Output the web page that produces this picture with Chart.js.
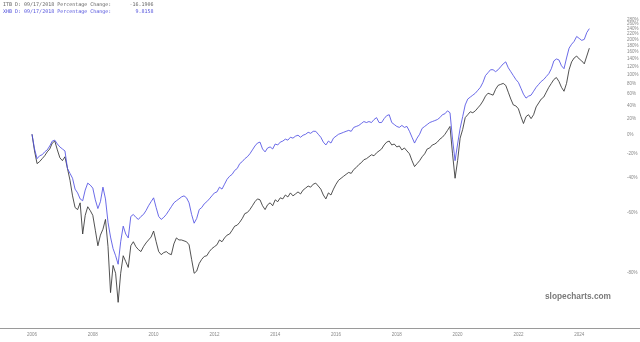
<!DOCTYPE html>
<html>
<head>
<meta charset="utf-8">
<script src="https://cdn.jsdelivr.net/npm/chart.js@4.4.1/dist/chart.umd.min.js"></script>
<style>
  html, body { margin: 0; padding: 0; background: #fff; }
  #wrap { position: relative; width: 640px; height: 342px; }
  #chart { position: absolute; left: 0; top: 0; }
  .hdr { position: absolute; left: 3px; font-family: "DejaVu Sans Mono", monospace; font-size: 5px; line-height: 6px; white-space: pre; }
  #wm { position: absolute; left: 545px; top: 291px; font: bold 8.3px "Liberation Sans", Arial, sans-serif; color: #7a7a7a; }
</style>
</head>
<body>
<div id="wrap">
  <canvas id="chart" width="640" height="342"></canvas>
  <div class="hdr" style="top:1px;color:#666">ITB D: 09/17/2018 Percentage Change:      -16.1906</div>
  <div class="hdr" style="top:8px;color:#5555dd">XHB D: 09/17/2018 Percentage Change:        9.8158</div>
  <div id="wm">slopecharts.com</div>
</div>
<script>
// monthly closes, % change since the start (Jan 2006)
const START_YEAR = 2006;
const yearTicks = [2006, 2008, 2010, 2012, 2014, 2016, 2018, 2020, 2022, 2024];
const pctTicks = [-80, -60, -40, -20, 0, 20, 40, 60, 80, 100, 120, 140, 160, 180, 200, 220, 240, 260, 280];

const itbPct = [
  0, -17.6, -28.9, -27.2, -24.7, -22.1, -18.5, -15.7, -9.7, -7.6, -16.6, -23.9,
  -26.4, -23.0, -32.8, -41.4, -51.1, -57.3, -58.3, -54.9, -68.6, -61.0, -56.9, -58.8,
  -61.0, -67.2, -72.6, -69.0, -66.8, -62.8, -72.9, -84.1, -78.2, -80.1, -85.8, -80.1,
  -75.6, -77.2, -78.7, -72.6, -71.3, -72.9, -73.8, -74.4, -72.9, -71.7, -70.7, -69.7,
  -67.5, -71.3, -74.4, -75.3, -74.7, -74.4, -75.0, -75.3, -72.0, -70.0, -70.7, -70.7,
  -71.0, -71.3, -72.3, -76.6, -80.1, -79.6, -77.7, -76.6, -75.8, -75.6, -74.4, -73.5,
  -72.9, -72.3, -70.7, -71.3, -70.0, -69.0, -68.6, -67.2, -65.6, -65.2, -64.0, -62.4,
  -60.2, -59.7, -58.3, -56.4, -54.3, -52.8, -53.3, -56.4, -58.3, -55.9, -54.9, -56.4,
  -53.3, -54.3, -52.2, -52.8, -50.6, -51.7, -49.4, -51.1, -50.0, -48.8, -50.0, -47.7,
  -46.5, -45.2, -45.9, -44.0, -43.3, -45.2, -47.1, -50.6, -52.8, -49.4, -50.6, -47.1,
  -44.0, -41.4, -40.0, -38.6, -37.2, -35.8, -36.5, -33.6, -32.0, -29.7, -28.1, -25.6,
  -24.7, -23.0, -21.2, -22.1, -19.4, -17.6, -15.7, -11.7, -8.7, -7.6, -11.7, -10.7,
  -13.7, -12.7, -16.6, -14.7, -17.6, -20.3, -26.4, -31.3, -28.9, -26.4, -23.0, -20.3,
  -15.7, -14.7, -11.7, -10.7, -8.7, -5.5, -3.4, 0, 4.6, 9.5, -20.3, -40.0,
  -26.4, -4.4, 5.8, 21.3, 25.5, 29.9, 28.4, 31.3, 35.9, 40.6, 47.1, 55.7,
  61.1, 59.3, 57.5, 68.6, 76.5, 78.5, 80.5, 76.5, 63.0, 50.5, 40.6, 39.0,
  34.4, 22.7, 13.3, 22.7, 25.5, 19.9, 25.5, 37.4, 43.8, 50.5, 54.0, 63.0,
  72.5, 80.5, 88.9, 93.3, 84.7, 72.5, 64.8, 80.5, 111.6, 131.8, 142.5, 148.1,
  139.8, 134.4, 126.6, 148.1, 171.7
];

const xhbPct = [
  0, -15.7, -24.7, -22.1, -21.2, -18.5, -16.6, -12.7, -7.6, -6.6, -10.7, -13.7,
  -15.7, -17.6, -32.8, -36.5, -40.0, -47.1, -49.4, -52.8, -53.8, -47.7, -43.3, -44.6,
  -46.5, -53.3, -57.8, -54.3, -45.9, -52.8, -64.0, -69.7, -73.5, -75.6, -77.9, -71.3,
  -65.6, -68.6, -70.0, -61.5, -60.6, -61.9, -62.8, -61.5, -60.6, -58.8, -56.4, -54.3,
  -52.2, -57.3, -61.5, -62.8, -61.9, -60.6, -58.8, -56.9, -54.9, -53.8, -52.8, -51.7,
  -51.1, -52.2, -54.9, -60.6, -64.4, -62.4, -58.3, -57.3, -55.4, -54.3, -52.8, -51.1,
  -49.4, -48.8, -45.9, -47.1, -44.0, -40.7, -38.6, -37.2, -34.3, -32.8, -28.9, -27.2,
  -24.7, -23.0, -20.3, -16.6, -12.7, -9.7, -8.7, -15.7, -18.5, -14.7, -13.7, -15.7,
  -10.7, -11.7, -8.7, -7.6, -5.5, -6.6, -3.4, -4.4, -2.2, -1.1, -3.4, -1.1,
  0, 2.3, 1.1, 3.5, 3.5, 0, -3.4, -8.7, -11.7, -7.6, -9.7, -4.4,
  -2.2, 0, 1.1, 2.3, 3.5, 4.6, 3.5, 8.3, 9.5, 10.8, 13.3, 15.9,
  14.6, 15.9, 14.6, 18.6, 21.3, 14.6, 14.6, 19.9, 24.1, 25.5, 14.6, 12.0,
  9.5, 8.3, 10.8, 8.3, 9.5, 3.5, -3.4, -9.7, -4.4, 0, 7.1, 9.5,
  12.0, 14.6, 15.9, 17.2, 18.6, 21.3, 25.5, 26.9, 31.3, 28.4, -5.5, -26.4,
  -10.7, 7.1, 22.7, 40.6, 50.5, 54.0, 57.5, 61.1, 66.7, 72.5, 82.6, 97.7,
  104.5, 111.6, 111.6, 106.9, 111.6, 119.0, 126.6, 131.8, 116.5, 106.9, 97.7, 88.9,
  82.6, 70.6, 59.3, 52.2, 55.7, 57.5, 64.8, 72.5, 78.5, 84.7, 88.9, 95.5,
  102.2, 114.1, 134.4, 139.8, 137.1, 121.5, 114.1, 142.5, 171.7, 184.4, 194.2, 211.4,
  204.4, 197.6, 201.0, 225.9, 241.0
];

// log scale wants growth factors, not percentages
const toPoints = arr => arr.map((v, i) => ({ x: START_YEAR + i / 12, y: 1 + v / 100 }));

// thin gray rule under the plot, across the whole width
const baseline = {
  id: 'baseline',
  afterDraw(chart) {
    const c = chart.ctx, y = Math.round(chart.chartArea.bottom) + 0.5;
    c.save();
    c.strokeStyle = '#9a9a9a';
    c.lineWidth = 1;
    c.beginPath();
    c.moveTo(0, y);
    c.lineTo(chart.width, y);
    c.stroke();
    c.restore();
  }
};

new Chart(document.getElementById('chart').getContext('2d'), {
  type: 'line',
  data: {
    datasets: [
      { label: 'XHB', data: toPoints(xhbPct), borderColor: 'rgb(80,80,228)', borderWidth: 0.85, pointRadius: 0, tension: 0 },
      { label: 'ITB', data: toPoints(itbPct), borderColor: '#333', borderWidth: 0.85, pointRadius: 0, tension: 0 },
    ],
  },
  options: {
    responsive: false,
    animation: false,
    layout: { padding: 0 },
    plugins: { legend: { display: false }, tooltip: { enabled: false } },
    scales: {
      x: {
        type: 'linear',
        min: 2004.947,
        max: 2025.342,
        grid: { display: false, drawTicks: false },
        border: { display: false },
        afterBuildTicks: s => { s.ticks = yearTicks.map(v => ({ value: v })); },
        afterFit: s => { s.height = 14; },
        ticks: { font: { size: 4.5 }, color: '#888', padding: 4, maxRotation: 0, autoSkip: false, callback: v => String(v) },
      },
      y: {
        type: 'logarithmic',
        position: 'right',
        min: 0.1054,
        max: 4.249,
        grid: { display: false, drawTicks: false },
        border: { display: false },
        afterBuildTicks: s => { s.ticks = pctTicks.map(p => ({ value: 1 + p / 100 })); },
        afterFit: s => { s.width = 20; },
        ticks: { font: { size: 4.5 }, color: '#888', padding: 7, autoSkip: false, callback: v => Math.round((v - 1) * 100) + '%' },
      },
    },
  },
  plugins: [baseline],
});
</script>
</body>
</html>
